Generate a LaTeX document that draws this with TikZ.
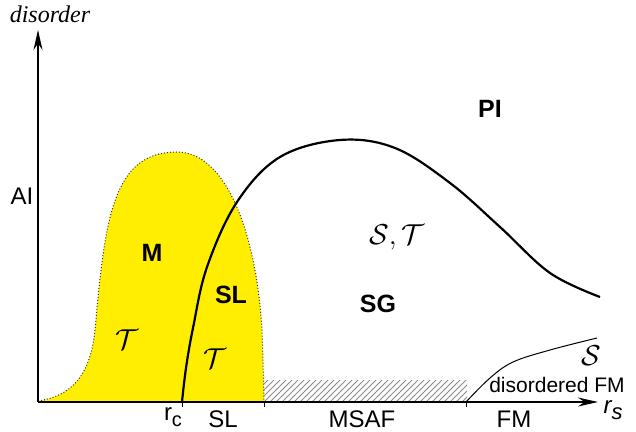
\documentclass[tikz,border=0pt]{standalone}
\usepackage{fontspec}
\setmainfont{Liberation Sans}
\newfontfamily\serifit{Liberation Serif}
\usetikzlibrary{arrows.meta,patterns}
\definecolor{mott}{HTML}{FFEE00}
\definecolor{hatch}{HTML}{8A8A8A}

\begin{document}
\begin{tikzpicture}[x=0.5pt,y=-0.5pt]
  \useasboundingbox (0,0) rectangle (636,432);
  \tikzset{
    axis/.style={line width=0.6pt,-{Stealth[length=10pt,width=4.5pt]}},
    phase/.style={font=\fontsize{12.5}{14}\selectfont\bfseries},
    tick/.style={font=\fontsize{12}{14}\selectfont},
    calig/.style={font=\fontsize{14}{16}\selectfont}
  }

  % Mott insulator dome
  \def\dome{(38,401) .. controls (70,396) and (90,378) .. (95,330)
    .. controls (105,220) and (112,152) .. (177,152)
    .. controls (225,152) and (256,230) .. (262,330)
    .. controls (263,360) .. (264,401)}
  \fill[mott] \dome -- cycle;
  \draw[densely dotted,line width=0.5pt,black!80] \dome;

  % MSAF strip
  \fill[pattern=north east lines,pattern color=hatch] (264,380) rectangle (467,401);

  % phase boundaries
  \draw[line width=1.1pt] plot[smooth,tension=0.6] coordinates {(182,402) (186,368) (193,328) (207,267) (237,202) (280,157) (340,140) (395,148) (450,183) (500,227) (550,273) (600,297)};
  \draw[line width=0.5pt] plot[smooth,tension=0.6] coordinates {(466,402) (490,378) (513,362) (550,350) (597,338)};

  % axes
  \coordinate (origin) at (38,402);
  \coordinate (ytip) at (38,30);
  \coordinate (xtip) at (598,402);
  \draw[axis] (origin) -- (ytip);
  \draw[axis] (origin) -- (xtip);
  \coordinate (rc) at (182,402);
  \coordinate (slend) at (264,402);
  \coordinate (msafend) at (466,402);
  \foreach \t in {rc,slend,msafend}
    \draw[line width=0.5pt] (\t) -- ++(0,5);

  % labels
  \node (disorder) at (50,14) {\serifit\itshape\fontsize{12}{14}\selectfont disorder};
  \node[tick] (ai) at (22,196) {AI};
  \node[phase] (pi) at (490,109) {PI};
  \node[phase] (m) at (152,253) {M};
  \node[phase] (sl) at (231,295) {SL};
  \node[phase] (sg) at (378,304) {SG};
  \node[calig] (st) at (397,237) {$\mathcal{S},\mathcal{T}$};
  \node[calig] (tm) at (127,340) {$\mathcal{T}$};
  \node[calig] (tsl) at (215,359) {$\mathcal{T}$};
  \node[calig] (sfm) at (591,356) {$\mathcal{S}$};
  \node[font=\fontsize{10.5}{12}\selectfont] (dfm) at (557,385) {disordered FM};
  \node[tick] (rclab) at (173,417) {r\raisebox{-0.5ex}{\fontsize{10}{12}\selectfont c}};
  \node[tick] (sllab) at (223,419) {SL};
  \node[tick] (msaf) at (362,419) {MSAF};
  \node[tick] (fm) at (514,419) {FM};
  \node[tick] (rs) at (613,410) {\itshape r\raisebox{-0.5ex}{\fontsize{11}{12}\selectfont s}};
\end{tikzpicture}
\end{document}
